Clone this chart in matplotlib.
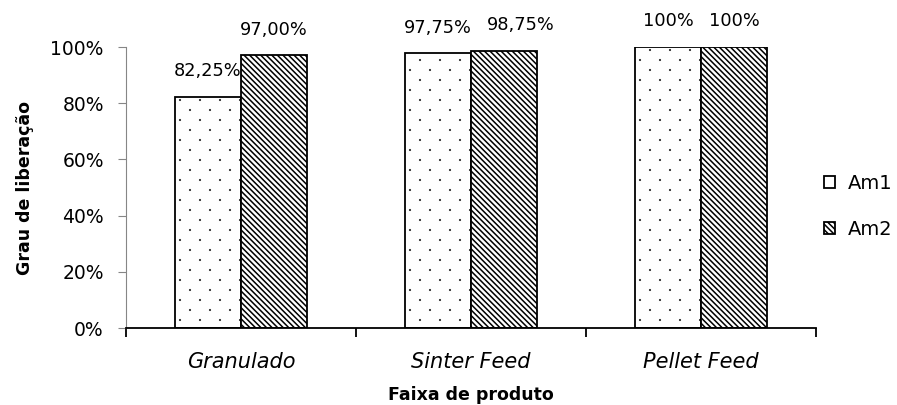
import matplotlib.pyplot as plt
import matplotlib.hatch as mhatch
import numpy as np
from matplotlib.path import Path
from matplotlib.ticker import PercentFormatter

plt.rcParams['font.family'] = ['DejaVu Sans']
plt.rcParams['hatch.linewidth'] = 1.1

categorias = ['Granulado', 'Sinter Feed', 'Pellet Feed']
am1 = [82.25, 97.75, 100]
am2 = [97.00, 98.75, 100]
rot_am1 = ['82,25%', '97,75%', '100%']
rot_am2 = ['97,00%', '98,75%', '100%']


# pontilhado esparso (estilo Excel) no lugar do '.' padrão
class PontosEsparsos(mhatch.HatchPatternBase):
    def __init__(self, hatch, density):
        self.centros = []
        if '.' in hatch:
            cols, lins = 5, 10
            for i in range(lins + 1):
                y = i / lins
                if i % 2 == 0:
                    xs = np.arange(cols + 1) / cols
                else:
                    xs = (np.arange(cols) + 0.5) / cols
                self.centros += [(xx, y) for xx in xs]
        self.circ = Path.unit_circle()
        self.num_vertices = len(self.centros) * len(self.circ.vertices)

    def set_vertices_and_codes(self, vertices, codes):
        n = len(self.circ.vertices)
        for k, (cx, cy) in enumerate(self.centros):
            vertices[k * n:(k + 1) * n] = self.circ.vertices * 0.003 + (cx, cy)
            codes[k * n:(k + 1) * n] = self.circ.codes


mhatch._hatch_types[mhatch._hatch_types.index(mhatch.SmallFilledCircles)] = PontosEsparsos

fig = plt.figure(figsize=(8.97, 4.05), dpi=100)
ax = fig.add_axes([0.1405, 0.1901, 0.7692, 0.6938])

x = np.arange(len(categorias))
w = 0.287
b1 = ax.bar(x - w / 2, am1, w, color='white', edgecolor='black', hatch='.',
            linewidth=1.3, label='Am1')
b2 = ax.bar(x + w / 2, am2, w, color='white', edgecolor='black', hatch='\\' * 6,
            linewidth=1.3, label='Am2')

# rótulos de dados; o do meio da Am2 foi afastado para a direita no original
for barras, rotulos, dx in [(b1, rot_am1, [0, 0, 0]), (b2, rot_am2, [0, 12, 0])]:
    for rect, txt, d in zip(barras, rotulos, dx):
        ax.annotate(txt, (rect.get_x() + rect.get_width() / 2, rect.get_height()),
                    xytext=(d, 12), textcoords='offset points',
                    ha='center', va='bottom', fontsize=12.8)

ax.set_xlim(-0.5, 2.5)
ax.set_ylim(0, 100)
ax.set_yticks(np.arange(0, 101, 20))
ax.yaxis.set_major_formatter(PercentFormatter(decimals=0))
ax.set_xticks(x)
ax.set_xticklabels(categorias, fontstyle='italic', fontsize=15)
ax.set_xticks([-0.5, 0.5, 1.5, 2.5], minor=True)
ax.tick_params(axis='x', which='major', length=0, pad=17)
ax.tick_params(axis='x', which='minor', length=6.5, width=1.3, color='black', direction='out')
ax.tick_params(axis='y', labelsize=13.5, length=6, color='#868686', pad=10)

for s in ['top', 'right']:
    ax.spines[s].set_visible(False)
ax.spines['left'].set_color('#868686')
ax.spines['bottom'].set_color('black')
ax.spines['bottom'].set_linewidth(1.3)

ax.set_ylabel('Grau de liberação', fontsize=12.5, fontweight='bold', labelpad=12)
ax.set_xlabel('Faixa de produto', fontsize=12.5, fontweight='bold', labelpad=10)

ax.legend(loc='center left', bbox_to_anchor=(1.0, 0.432), frameon=False,
          fontsize=14, handlelength=0.57, handleheight=0.57, labelspacing=1.4,
          handletextpad=0.67, borderaxespad=0, borderpad=0.4)

fig.savefig('out.png', dpi=100)
